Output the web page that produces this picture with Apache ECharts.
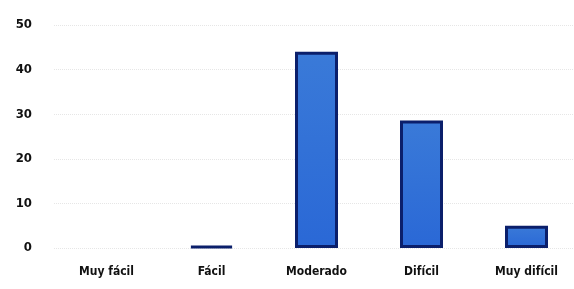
<!DOCTYPE html>
<html>
<head>
<meta charset="utf-8">
<script src="https://cdn.jsdelivr.net/npm/echarts@6/dist/echarts.min.js"></script>
<style>
    html, body { margin: 0; padding: 0; background: #ffffff; }
    #chart { width: 574px; height: 289px; }
</style>
</head>
<body>
<div id="chart"></div>
<script>
// datos
const categorias = ['Muy fácil', 'Fácil', 'Moderado', 'Difícil', 'Muy difícil'];
const valores = [0, 0.4, 44, 28.6, 5];
const marcasY = [0, 10, 20, 30, 40, 50];

const chart = echarts.init(document.getElementById('chart'));

// las barras con valor 0 no llevan borde
const datosBarras = valores.map(v => ({
    value: v,
    itemStyle: v === 0 ? { borderWidth: 0 } : {}
}));

const option = {
    animation: false,
    grid: {
        left: 54,
        right: -5,
        top: 25,
        bottom: 41,
        outerBoundsMode: 'none'
    },
    xAxis: {
        type: 'category',
        data: categorias,
        axisLine: { show: false },
        axisTick: { show: false },
        axisLabel: {
            color: '#111',
            fontSize: 12,
            fontWeight: 'bold',
            fontFamily: 'Liberation Sans Narrow, DejaVu Sans Condensed, sans-serif',
            margin: 18,
            interval: 0
        }
    },
    yAxis: {
        type: 'value',
        min: marcasY[0],
        max: marcasY[marcasY.length - 1],
        interval: 10,
        axisLine: { show: false },
        axisTick: { show: false },
        axisLabel: {
            color: '#111',
            fontSize: 13,
            fontWeight: 'bold',
            fontFamily: 'DejaVu Sans Condensed, sans-serif',
            margin: 22
        },
        splitLine: {
            lineStyle: { color: '#e6e6e6', type: 'dotted' }
        }
    },
    series: [{
        type: 'bar',
        data: datosBarras,
        barWidth: 43,
        itemStyle: {
            color: new echarts.graphic.LinearGradient(0, 0, 0, 1, [
                { offset: 0, color: '#3a7ad8' },
                { offset: 1, color: '#2a68d6' }
            ]),
            borderColor: '#0b1f6b',
            borderWidth: 3
        }
    }]
};

chart.setOption(option);
</script>
</body>
</html>
